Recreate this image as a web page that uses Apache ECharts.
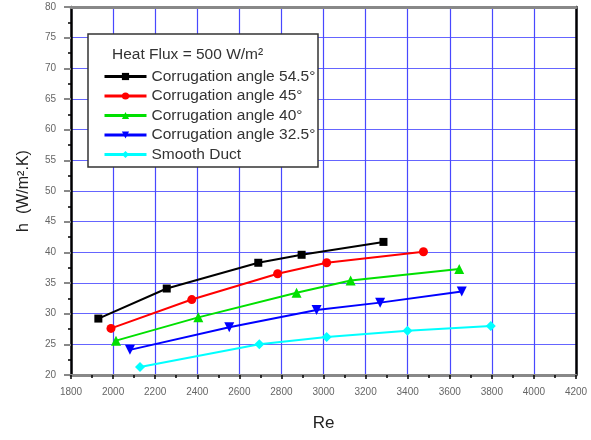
<!DOCTYPE html>
<html>
<head>
<meta charset="utf-8">
<script src="https://cdn.jsdelivr.net/npm/echarts@6/dist/echarts.min.js"></script>
<style>
  html, body { margin: 0; padding: 0; background: #fff; }
  #chart { width: 591px; height: 440px; }
</style>
</head>
<body>
<div id="chart"></div>
<script>
// Heat transfer coefficient vs Reynolds number, heat flux 500 W/m²
const seriesNames = [
  'Corrugation angle 54.5°',
  'Corrugation angle 45°',
  'Corrugation angle 40°',
  'Corrugation angle 32.5°',
  'Smooth Duct'
];

const re54 = [1930, 2255, 2690, 2896, 3285];
const h54  = [29.2, 34.1, 38.3, 39.6, 41.7];

const re45 = [1990, 2374, 2782, 3015, 3475];
const h45  = [27.6, 32.3, 36.5, 38.3, 40.1];

const re40 = [2014, 2405, 2872, 3129, 3645];
const h40  = [25.6, 29.4, 33.4, 35.4, 37.3];

const re32 = [2080, 2552, 2967, 3269, 3657];
const h32  = [24.1, 27.8, 30.6, 31.8, 33.6];

const reSmooth = [2128, 2695, 3015, 3399, 3795];
const hSmooth  = [21.3, 25.0, 26.2, 27.2, 28.0];

const xTicks = { min: 1800, max: 4200, step: 200 };
const yTicks = { min: 20, max: 80, step: 5 };

const pair = (xs, ys) => xs.map((x, i) => [x, ys[i]]);

const styles = [
  { color: '#000000', symbol: 'rect', size: 8, rotate: 0 },
  { color: '#ff0000', symbol: 'circle', size: 9, rotate: 0 },
  { color: '#00e000', symbol: 'triangle', size: 10, rotate: 0 },
  { color: '#0000ff', symbol: 'triangle', size: 10, rotate: 180 },
  { color: '#00ffff', symbol: 'diamond', size: 10, rotate: 0 }
];
const dataSets = [
  pair(re54, h54), pair(re45, h45), pair(re40, h40), pair(re32, h32), pair(reSmooth, hSmooth)
];

const series = dataSets.map((d, i) => ({
  name: seriesNames[i],
  type: 'line',
  data: d,
  smooth: false,
  symbol: styles[i].symbol,
  symbolSize: styles[i].size,
  symbolRotate: styles[i].rotate,
  showAllSymbol: true,
  lineStyle: { color: styles[i].color, width: 2 },
  itemStyle: { color: styles[i].color },
  z: 3
}));

const chart = echarts.init(document.getElementById('chart'), null, { renderer: 'canvas' });

const labelFont = { fontFamily: 'Liberation Sans, Arial, sans-serif', fontSize: 10, color: '#666' };

chart.setOption({
  animation: false,
  backgroundColor: '#fff',
  grid: { left: 71, right: 15, top: 7, bottom: 65, containLabel: false },
  xAxis: [{
    type: 'value',
    min: xTicks.min, max: xTicks.max, interval: xTicks.step,
    name: 'Re', nameLocation: 'middle', nameGap: 40,
    nameTextStyle: { fontFamily: 'Liberation Sans, Arial, sans-serif', fontSize: 17, color: '#222' },
    axisLine: { show: true, onZero: false, lineStyle: { color: '#888', width: 3 } },
    axisTick: { show: true, inside: false, length: 4, lineStyle: { color: '#000', width: 1.5 } },
    minorTick: { show: true, splitNumber: 2, length: 3, lineStyle: { color: '#000', width: 1.5 } },
    axisLabel: Object.assign({ margin: 12, formatter: v => String(v) }, labelFont),
    splitLine: { show: true, lineStyle: { color: '#4848ff', width: 1.2 } }
  }, {
    type: 'value', position: 'top',
    min: xTicks.min, max: xTicks.max,
    axisLine: { show: true, onZero: false, lineStyle: { color: '#888', width: 3 } },
    axisTick: { show: false }, axisLabel: { show: false }, splitLine: { show: false }
  }],
  yAxis: [{
    type: 'value',
    min: yTicks.min, max: yTicks.max, interval: yTicks.step,
    name: 'h  (W/m\u00B2.K)', nameLocation: 'middle', nameGap: 39,
    nameTextStyle: { fontFamily: 'Liberation Sans, Arial, sans-serif', fontSize: 16, color: '#222' },
    axisLine: { show: true, onZero: false, lineStyle: { color: '#000', width: 2.5 } },
    axisTick: { show: true, inside: false, length: 7, lineStyle: { color: '#888', width: 2 } },
    minorTick: { show: true, splitNumber: 2, length: 3, lineStyle: { color: '#000', width: 1.5 } },
    axisLabel: Object.assign({ margin: 15, formatter: v => String(v) }, labelFont),
    splitLine: { show: true, lineStyle: { color: '#6565ff', width: 1.2 } }
  }, {
    type: 'value', position: 'right',
    min: yTicks.min, max: yTicks.max,
    axisLine: { show: true, onZero: false, lineStyle: { color: '#000', width: 2.5 } },
    axisTick: { show: false }, axisLabel: { show: false }, splitLine: { show: false }
  }],
  legend: {
    show: true,
    orient: 'vertical',
    left: 103, top: 68.5, padding: 0,
    itemWidth: 42, itemHeight: 9, itemGap: 3.5,
    data: seriesNames,
    lineStyle: { width: 3 },
    textStyle: { fontFamily: 'Liberation Sans, Arial, sans-serif', fontSize: 15.5, color: '#333', lineHeight: 16 },
    z: 20,
    selectedMode: false
  },
  graphic: [
    {
      type: 'rect', z: 10,
      shape: { x: 88, y: 34, width: 230, height: 133 },
      style: { fill: '#fff', stroke: '#333', lineWidth: 1.5 }
    },
    {
      type: 'text', z: 11,
      left: 112, top: 47,
      style: {
        text: 'Heat Flux = 500 W/m\u00B2',
        font: '15.5px "Liberation Sans", Arial, sans-serif',
        fill: '#333'
      }
    }
  ],
  series: series
});
</script>
</body>
</html>
